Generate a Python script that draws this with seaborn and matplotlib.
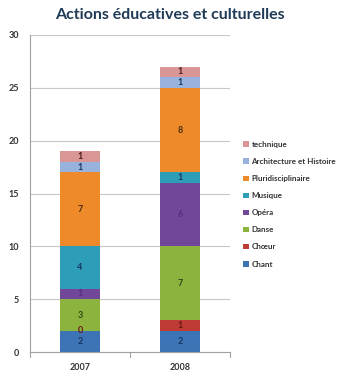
import matplotlib
matplotlib.use("Agg")
import matplotlib.pyplot as plt
import seaborn as sns
import numpy as np
from matplotlib.patches import Patch

years = ["2007", "2008"]
series = ["Chant", "Chœur", "Danse", "Opéra", "Musique", "Pluridisciplinaire",
          "Architecture et Histoire", "technique"]
chant = [2, 2]
choeur = [0, 1]
danse = [3, 7]
opera = [1, 6]
musique = [4, 1]
pluri = [7, 8]
archi = [1, 1]
technique = [1, 1]
values = [chant, choeur, danse, opera, musique, pluri, archi, technique]
colors = ["#3D74B5", "#BE3B36", "#8DB33F", "#71479A", "#2E9DB8",
          "#EE8A2A", "#97B3DD", "#D99694"]
label_colors = ["#17375E", "#6B1513", "#33461A", "#5A2E80", "#17375E",
                "#4A2E10", "#17375E", "#4A1A1A"]

sns.set_theme(style="white")
plt.rcParams['font.family'] = ['Lato', 'DejaVu Sans']

fig = plt.figure(figsize=(3.39, 3.76), dpi=100)
ax = fig.add_axes([30/339, 1-352/376, 200/339, 317/376])

cum = np.cumsum(np.array(values), axis=0)
for i in reversed(range(len(series))):
    sns.barplot(x=years, y=cum[i], color=colors[i], width=0.4, ax=ax,
                saturation=1, edgecolor="none", linewidth=0)

for i in range(len(series)):
    for j in range(len(years)):
        v = values[i][j]
        ax.text(j, cum[i][j] - v/2, str(v), ha="center", va="center",
                fontsize=6.5, color=label_colors[i], fontweight="bold")

ax.set_xlim(-0.5, 1.5)
ax.set_ylim(0, 30)
ax.set_yticks(range(0, 31, 5))
ax.yaxis.grid(True, color="#C8C8C8", linewidth=0.8)
ax.set_axisbelow(True)
for s in ["top", "right"]:
    ax.spines[s].set_visible(False)
ax.spines["left"].set_color("#A0A0A0")
ax.spines["bottom"].set_color("#A0A0A0")
ax.spines["left"].set_linewidth(0.8)
ax.spines["bottom"].set_linewidth(0.8)
ax.tick_params(axis="y", labelsize=6.5, colors="#333333", length=0, pad=8)
ax.tick_params(axis="x", labelsize=6.5, colors="#333333", length=0, pad=8)
for lbl in ax.get_xticklabels() + ax.get_yticklabels():
    lbl.set_fontweight("bold")
for xb in [-0.5, 0.5, 1.5]:
    ax.plot([xb, xb], [0, -0.5], color="#A0A0A0", lw=0.8, clip_on=False)
ax.set_xlabel("")
ax.set_ylabel("")

handles = [Patch(facecolor=colors[i], edgecolor="none", label=series[i])
           for i in reversed(range(len(series)))]
leg = fig.legend(handles=handles, loc="upper left", bbox_to_anchor=(239/339, 1-137/376),
                 frameon=False, fontsize=5.8, handlelength=0.7, handleheight=0.7,
                 handletextpad=0.35, labelspacing=1.25, borderpad=0)
for t in leg.get_texts():
    t.set_color("#333333")
    t.set_fontweight("bold")

fig.text(0.5, 1-15/376, "Actions éducatives et culturelles", ha="center", va="center",
         fontsize=11.5, fontweight="bold", color="#1F3B57")

fig.savefig("out.png", dpi=100)
